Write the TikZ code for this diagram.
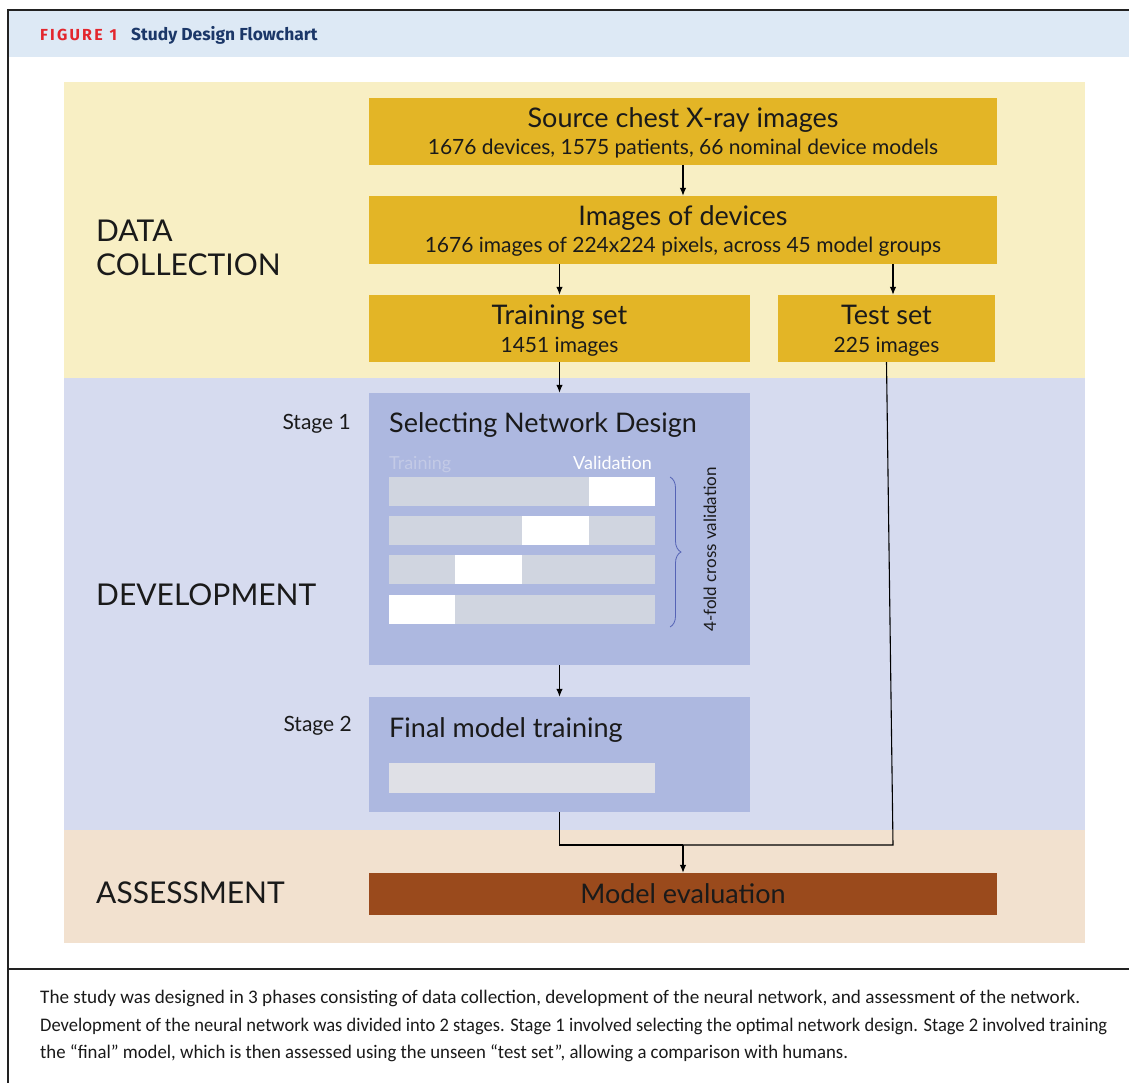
\documentclass[tikz,border=0pt]{standalone}
\usepackage{fontspec}
\usepackage{graphicx}
\setmainfont{Lato}
\newfontfamily\capfont{Carlito}
\newfontfamily\headfont{Fira Sans}
\usetikzlibrary{arrows.meta,decorations.pathreplacing}
\definecolor{headbg}{HTML}{DDE9F5}
\definecolor{figred}{HTML}{E3262D}
\definecolor{navy}{HTML}{1B3768}
\definecolor{yband}{HTML}{F8EFC4}
\definecolor{lband}{HTML}{D6DBEF}
\definecolor{pband}{HTML}{F2E1CF}
\definecolor{gold}{HTML}{E3B526}
\definecolor{lav}{HTML}{ADB8E0}
\definecolor{brown}{HTML}{9A4A1C}
\definecolor{bargray}{HTML}{D0D5E0}
\definecolor{bargray2}{HTML}{DFE0E6}
\definecolor{faint}{HTML}{C3CAE6}
\definecolor{braceblue}{HTML}{5563B5}
\definecolor{framec}{HTML}{222222}
\definecolor{ink}{HTML}{1A1A1A}
\tikzset{
  band/.style={fill=#1, inner sep=0pt, anchor=north west, draw=none},
  goldbox/.style={fill=gold, inner sep=0pt},
  lavbox/.style={fill=lav, inner sep=0pt},
  conn/.style={line width=1.1pt, draw=black},
  arr/.style={conn, -{Latex[length=8pt,width=6.5pt]}},
  bigtxt/.style={font=\fontsize{27}{31}\selectfont, text=ink, inner sep=0pt, anchor=base},
  subtxt/.style={font=\fontsize{21}{25}\selectfont, text=ink, inner sep=0pt, anchor=base},
  phase/.style={font=\fontsize{30}{34}\selectfont, text=ink, align=left, inner sep=0pt},
  stagelbl/.style={font=\fontsize{21}{24}\selectfont, text=ink, anchor=base east, inner sep=0pt},
  smalltxt/.style={font=\fontsize{18}{21}\selectfont, inner sep=0pt}
}
\begin{document}
\begin{tikzpicture}[x=1pt,y=-1pt]
\useasboundingbox (0,0) rectangle (1129,1083);
\fill[white] (0,0) rectangle (1129,1083);
% header and frame
\fill[headbg] (9,11) rectangle (1129,57);
\draw[framec, line width=2pt] (8,10) -- (1129,10);
\draw[framec, line width=1.5pt] (8,9) -- (8,1083);
\draw[framec, line width=2pt] (8,968.5) -- (1129,968.5);
\node[anchor=base west, inner sep=0pt] (fig) at (40,41)
  {\headfont\bfseries\fontsize{16}{18}\selectfont\color{figred}F\kern2.2pt I\kern2.2pt G\kern2.2pt U\kern2.2pt R\kern2.2pt E\hspace{7pt}1};
\node[anchor=base west, inner sep=0pt] (ttl) at (131,41)
  {\headfont\bfseries\fontsize{17.4}{20}\selectfont\color{navy}Study Design Flowchart};
% bands
\node[band=yband, minimum width=1021pt, minimum height=296pt] (bdata) at (64,82) {};
\node[band=lband, minimum width=1021pt, minimum height=452pt] (bdev) at (64,378) {};
\node[band=pband, minimum width=1021pt, minimum height=113pt] (bass) at (64,830) {};
% phase labels
\node[phase, anchor=north west] (ldata) at (96,219.5) {DATA\\COLLECTION};
\node[phase, anchor=base west] (ldev) at (96,605) {DEVELOPMENT};
\node[phase, anchor=base west] (lass) at (96,903) {ASSESSMENT};
\node[stagelbl] (st1) at (351,429) {Stage 1};
\node[stagelbl] (st2) at (352,731) {Stage 2};
% gold boxes
\node[goldbox, minimum width=628pt, minimum height=67pt] (src) at (683,131.5) {};
\node[bigtxt] (srcT) at (683,127.5) {Source chest X-ray images};
\node[subtxt] (srcS) at (683,155) {1676 devices, 1575 patients, 66 nominal device models};
\node[goldbox, minimum width=628pt, minimum height=68pt] (img) at (683,230) {};
\node[bigtxt] (imgT) at (683,225.5) {Images of devices};
\node[subtxt] (imgS) at (683,253) {1676 images of 224x224 pixels, across 45 model groups};
\node[goldbox, minimum width=381pt, minimum height=67pt] (train) at (559.5,328.5) {};
\node[bigtxt] (trainT) at (559.5,324.5) {Training set};
\node[subtxt] (trainS) at (559.5,352) {1451 images};
\node[goldbox, minimum width=217pt, minimum height=67pt] (test) at (886.5,328.5) {};
\node[bigtxt] (testT) at (886.5,324.5) {Test set};
\node[subtxt] (testS) at (886.5,352) {225 images};
% stage boxes
\node[lavbox, minimum width=381pt, minimum height=272pt] (s1) at (559.5,529) {};
\node[lavbox, minimum width=381pt, minimum height=115pt] (s2) at (559.5,754.5) {};
\node[bigtxt, anchor=base west] (s1t) at (389,432) {Selecting Network Design};
\node[smalltxt, text=faint, anchor=base west] (trl) at (389,469.5) {Training};
\node[smalltxt, text=white, anchor=base east] (vall) at (652,469.5) {Validation};
% cross-validation bars
\fill[bargray] (389,477) rectangle (655,506);
\fill[white] (589,477) rectangle (655,506);
\fill[bargray] (389,516) rectangle (655,545);
\fill[white] (522,516) rectangle (589,545);
\fill[bargray] (389,555) rectangle (655,584);
\fill[white] (455,555) rectangle (522,584);
\fill[bargray] (389,595) rectangle (655,624);
\fill[white] (389,595) rectangle (455,624);
\draw[braceblue, line width=0.8pt, decorate, decoration={brace, amplitude=11pt}] (670,477) -- (670,627);
\node[font=\fontsize{17}{20}\selectfont, text=ink, rotate=90, inner sep=0pt] (cv) at (710,549.5) {4-fold cross validation};
\node[bigtxt, anchor=base west] (s2t) at (389,737) {Final model training};
\fill[bargray2] (389,763) rectangle (655,793);
% evaluation
\node[fill=brown, inner sep=0pt, minimum width=628pt, minimum height=42pt] (eval) at (683,894) {};
\node[bigtxt] (evalT) at (683,903) {Model evaluation};
% connectors
\coordinate (jr) at (893,845);
\coordinate (jc) at (683,845);
\draw[arr] (src) -- (img);
\draw[arr] (img.south -| train.south) -- (train.north);
\draw[arr] (img.south -| jr) -- (test.north -| jr);
\draw[arr] (train) -- (s1);
\draw[arr] (s1) -- (s2);
\draw[conn] (s2.south) |- (jc);
\draw[conn] (test.south) -- (jr) -- (jc);
\draw[arr] (jc) -- (eval.north);
% caption
\node[anchor=north west, inner sep=0pt, align=left, text=ink, font=\capfont\fontsize{19.2}{27.5}\selectfont] (cap) at (40,990)
  {\resizebox{1040pt}{\height}{The study was designed in 3 phases consisting of data collection, development of the neural network, and assessment of the network.}\\
   \resizebox{1067pt}{\height}{Development of the neural network was divided into 2 stages. Stage 1 involved selecting the optimal network design. Stage 2 involved training}\\
   \resizebox{808pt}{\height}{the “final” model, which is then assessed using the unseen “test set”, allowing a comparison with humans.}};
\end{tikzpicture}
\end{document}
